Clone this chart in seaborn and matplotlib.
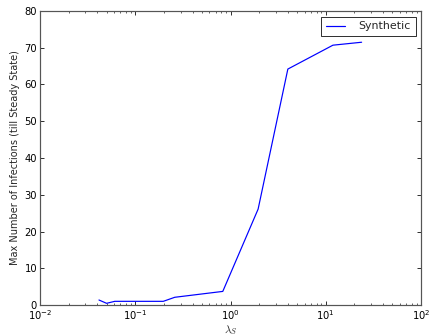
import matplotlib
matplotlib.use("Agg")
import matplotlib.pyplot as plt
import seaborn as sns
import pandas as pd

lam = [0.0416, 0.050, 0.061, 0.197, 0.26, 0.83, 1.95, 4.0, 11.9, 23.8]
infections = [1.36, 0.46, 1.0, 1.0, 2.1, 3.7, 26.1, 64.2, 70.7, 71.5]
series = ["Synthetic"] * len(lam)

df = pd.DataFrame({"lam": lam, "inf": infections, "series": series})

sns.set_style("ticks")
plt.rcParams["font.family"] = ["DejaVu Sans"]
plt.rcParams["mathtext.fontset"] = "cm"

fig = plt.figure(figsize=(6, 336 / 72), dpi=72)
ax = fig.add_axes([40 / 432, 1 - 305 / 336, 381 / 432, 294 / 336])

sns.lineplot(data=df, x="lam", y="inf", hue="series", palette=["#0000ff"],
             estimator=None, sort=False, ax=ax, linewidth=1.2)

ax.set_xscale("log")
ax.set_xlim(1e-2, 1e2)
ax.set_ylim(0, 80)
ax.set_xlabel(r"$\lambda_S$", fontsize=11, labelpad=1)
ax.set_ylabel("Max Number of Infections (till Steady State)", fontsize=9.7, labelpad=4)
ax.tick_params(which="both", direction="in", top=True, right=True, labelsize=10,
               colors="black", pad=3)
ax.tick_params(which="major", length=4, width=0.8)
ax.tick_params(which="minor", length=2, width=0.6)
for s in ax.spines.values():
    s.set_color("#555555")
    s.set_linewidth(1.2)

leg = ax.legend(loc="upper right", fontsize=11, fancybox=False, framealpha=1,
                edgecolor="black", handlelength=1.7, handletextpad=1.2,
                borderaxespad=0.5, borderpad=0.45)
leg.get_frame().set_linewidth(0.8)

fig.savefig("out.png", dpi=72)
